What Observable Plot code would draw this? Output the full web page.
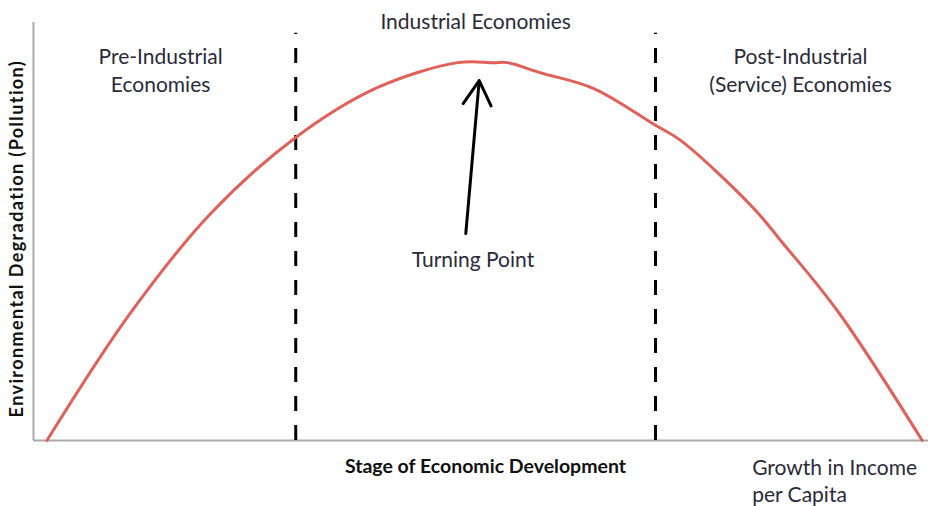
<!DOCTYPE html>
<html>
<head>
<meta charset="utf-8">
<script src="https://cdn.jsdelivr.net/npm/d3@7"></script>
<script src="https://cdn.jsdelivr.net/npm/@observablehq/plot@0.6"></script>
<style>
  html, body { margin: 0; padding: 0; background: #fff; }
  #chart svg { display: block; }
  .ytitle text { letter-spacing: 1.4px; }
</style>
</head>
<body>
<div id="chart"></div>
<script>
// Stage of development (0–100) and environmental degradation (0–100)
const stage = [1.5, 10.8, 19.8, 29.3, 38.4, 47.4, 51.4, 53.0, 56.6, 62.6, 69.5, 72.3, 80.4, 83.5, 89.8, 99.3];
const pollution = [0, 30.4, 54.3, 72.5, 84.4, 90.4, 90.4, 90.4, 88.0, 84.2, 75.4, 71.8, 55.7, 47.8, 31.1, 0];

// Boundaries between the phases
const boundaries = [29.3, 69.5];
const boundaryTop = 97.4;

// Phase labels
const phaseLabels = ["Pre-Industrial\nEconomies", "Industrial Economies", "Post-Industrial\n(Service) Economies"];
const phaseX = [14.2, 49.4, 85.7];
const phaseY = [88.8, 100.5, 88.8];

// Turning point annotation
const turningLabel = "Turning Point";
const arrowFrom = [48.3, 49.5];
const arrowTo = [49.8, 86.1];
const turningLabelPos = [49.1, 43];

const xTitle = "Stage of Economic Development";
const xEndTitle = "Growth in Income\nper Capita";
const yTitle = "Environmental Degradation (Pollution)";

const curve = stage.map((s, i) => ({stage: s, pollution: pollution[i]}));
const phases = phaseLabels.map((t, i) => ({text: t, x: phaseX[i], y: phaseY[i]}));
const dividers = boundaries.map(b => ({x: b, y1: 0, y2: boundaryTop}));

const font = "Lato, 'Open Sans', sans-serif";
const textColor = "#2a2a3a";

const chart = Plot.plot({
  width: 928,
  height: 506,
  marginLeft: 33,
  marginRight: 0,
  marginTop: 22,
  marginBottom: 66,
  x: {domain: [0, 100], axis: null},
  y: {domain: [0, 100], axis: null},
  style: {fontFamily: font, background: "#fff"},
  marks: [
    // axis lines
    Plot.ruleX([0], {y1: 0, y2: 100, stroke: "#aaaaaa", strokeWidth: 2}),
    Plot.ruleY([0], {x1: 0, x2: 100, stroke: "#aaaaaa", strokeWidth: 2}),
    // phase dividers
    Plot.ruleX(dividers, {x: "x", y1: "y1", y2: "y2", stroke: "#000", strokeWidth: 3, strokeDasharray: "15,14"}),
    // curve
    Plot.line(curve, {x: "stage", y: "pollution", curve: "catmull-rom", stroke: "#e0605a", strokeWidth: 3}),
    // arrow
    Plot.arrow([{x1: arrowFrom[0], y1: arrowFrom[1], x2: arrowTo[0], y2: arrowTo[1]}], {
      x1: "x1", y1: "y1", x2: "x2", y2: "y2", stroke: "#000", strokeWidth: 3, headLength: 14, bend: 0
    }),
    // phase labels
    Plot.text(phases, {x: "x", y: "y", text: "text", fontSize: 21, lineHeight: 1.33, fill: textColor}),
    Plot.text([turningLabel], {x: turningLabelPos[0], y: turningLabelPos[1], text: d => d, fontSize: 21, fill: textColor}),
    // axis titles
    Plot.text([xTitle], {x: 50.5, y: -6.2, text: d => d, fontSize: 19.5, fontWeight: "bold", fill: "#111"}),
    Plot.text([xEndTitle], {x: 80.3, y: -9.4, text: d => d, fontSize: 21, lineHeight: 1.3, textAnchor: "start", fill: textColor}),
    Plot.text([yTitle], {x: -1.8, y: 48.3, text: d => d, rotate: -90, fontSize: 18, fontWeight: "bold", fill: "#111",
      className: "ytitle"})
  ]
});
document.getElementById("chart").appendChild(chart);
</script>
</body>
</html>
